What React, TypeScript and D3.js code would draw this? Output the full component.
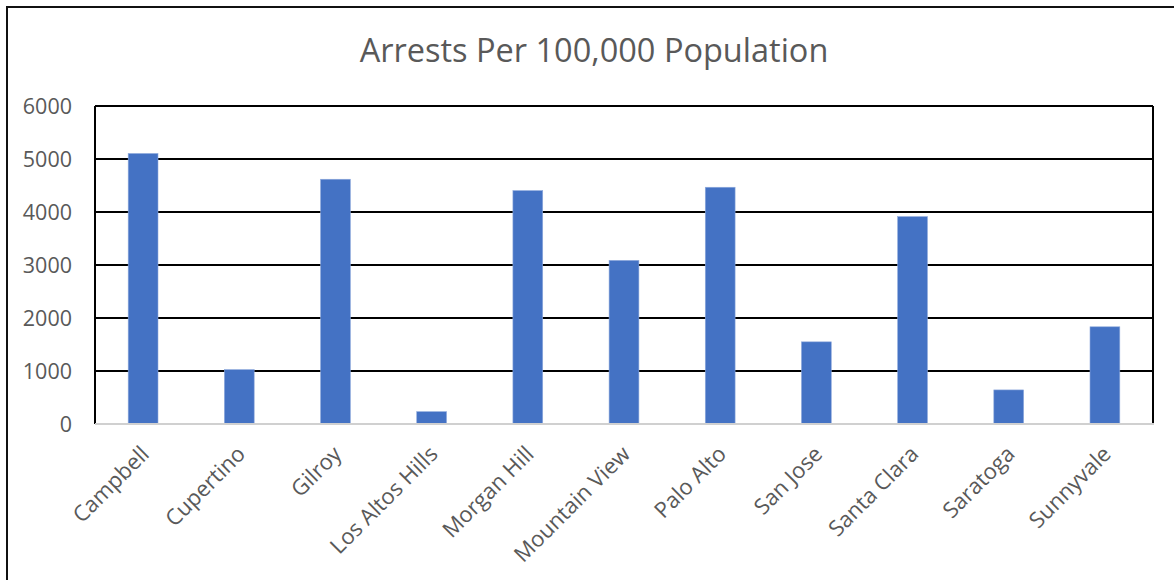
import React, {useEffect, useRef} from 'react';
import * as d3 from 'd3';

const WIDTH = 1174;
const HEIGHT = 580;

const CITIES = [
    'Campbell', 'Cupertino', 'Gilroy', 'Los Altos Hills', 'Morgan Hill',
    'Mountain View', 'Palo Alto', 'San Jose', 'Santa Clara', 'Saratoga', 'Sunnyvale',
];
const ARRESTS = [5104, 1026, 4618, 233, 4404, 3087, 4467, 1550, 3913, 643, 1834];
const Y_TICKS = [0, 1000, 2000, 3000, 4000, 5000, 6000];
const TITLE = 'Arrests Per 100,000 Population';

const FONT = '"Open Sans", "Noto Sans", sans-serif';
const TEXT_COLOR = '#595959';
const BAR_COLOR = '#4472C4';

const margin = {top: 106, right: 21, bottom: 156, left: 95};

const App = () => {
    const svgRef = useRef<SVGSVGElement>(null);

    useEffect(() => {
        const svg = d3.select(svgRef.current);
        svg.selectAll('*').remove();

        const chartWidth = WIDTH - margin.left - margin.right;
        const chartHeight = HEIGHT - margin.top - margin.bottom;

        const x = d3.scaleBand<string>()
            .domain(CITIES)
            .range([0, chartWidth])
            .paddingInner(0.69)
            .paddingOuter(0.345);
        const y = d3.scaleLinear()
            .domain([0, 6000])
            .range([chartHeight, 0]);

        // outer frame (right/bottom edges sit outside the picture)
        svg.append('rect')
            .attr('x', 7)
            .attr('y', 7)
            .attr('width', WIDTH + 10)
            .attr('height', HEIGHT + 10)
            .attr('fill', 'white')
            .attr('stroke', '#111')
            .attr('stroke-width', 2);

        svg.append('text')
            .attr('x', 594)
            .attr('y', 62)
            .attr('text-anchor', 'middle')
            .style('font-family', FONT)
            .style('font-size', '32.5px')
            .attr('fill', TEXT_COLOR)
            .text(TITLE);

        const g = svg.append('g')
            .attr('transform', `translate(${margin.left},${margin.top})`);

        // gridlines
        g.append('g')
            .selectAll('line')
            .data(Y_TICKS.filter(t => t > 0))
            .join('line')
            .attr('x1', 0)
            .attr('x2', chartWidth)
            .attr('y1', d => y(d))
            .attr('y2', d => y(d))
            .attr('stroke', '#000')
            .attr('stroke-width', 2);

        // left and right plot borders
        g.append('line')
            .attr('x1', 0).attr('x2', 0)
            .attr('y1', 0).attr('y2', chartHeight)
            .attr('stroke', '#000').attr('stroke-width', 2);
        g.append('line')
            .attr('x1', chartWidth).attr('x2', chartWidth)
            .attr('y1', 0).attr('y2', chartHeight)
            .attr('stroke', '#000').attr('stroke-width', 2);

        // bars
        g.append('g')
            .selectAll('rect')
            .data(CITIES)
            .join('rect')
            .attr('x', d => x(d) ?? 0)
            .attr('y', (d, i) => y(ARRESTS[i]))
            .attr('width', x.bandwidth())
            .attr('height', (d, i) => chartHeight - y(ARRESTS[i]))
            .attr('fill', BAR_COLOR)
            .attr('stroke', '#8faadc')
            .attr('stroke-width', 0.6);

        // x axis baseline
        g.append('line')
            .attr('x1', 0).attr('x2', chartWidth + 1)
            .attr('y1', chartHeight).attr('y2', chartHeight)
            .attr('stroke', '#d0d0d0')
            .attr('stroke-width', 2);

        // y tick labels
        g.append('g')
            .selectAll('text')
            .data(Y_TICKS)
            .join('text')
            .attr('x', -23)
            .attr('y', d => y(d))
            .attr('dy', '0.35em')
            .attr('text-anchor', 'end')
            .style('font-family', FONT)
            .style('font-size', '21.5px')
            .attr('fill', TEXT_COLOR)
            .text(d => d);

        // x category labels
        g.append('g')
            .selectAll('text')
            .data(CITIES)
            .join('text')
            .attr('transform', d => {
                const cx = (x(d) ?? 0) + x.bandwidth() / 2 + 2;
                return `translate(${cx},${chartHeight + 26}) rotate(-45)`;
            })
            .attr('text-anchor', 'end')
            .attr('dy', '0.35em')
            .style('font-family', FONT)
            .style('font-size', '22px')
            .attr('fill', TEXT_COLOR)
            .text(d => d);
    }, []);

    return (
        <svg
            ref={svgRef}
            width={WIDTH}
            height={HEIGHT}
            style={{position: 'absolute', left: 0, top: 0, background: 'white'}}
        />
    );
};

export default App;
